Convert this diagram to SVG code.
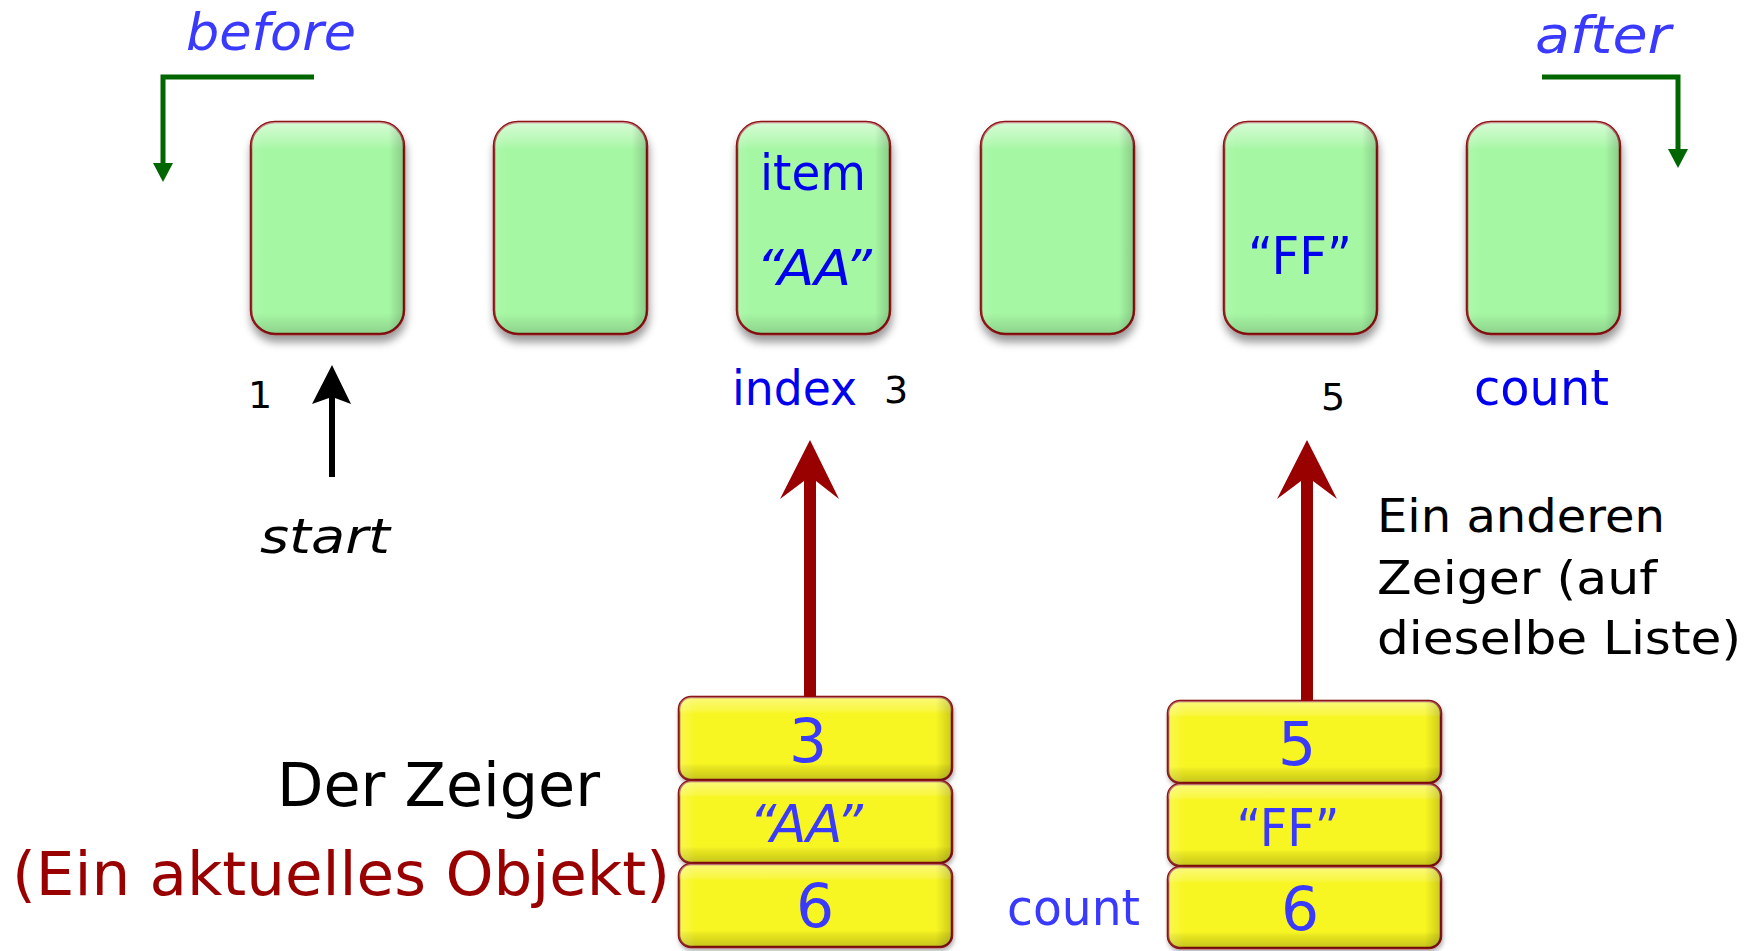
<svg xmlns="http://www.w3.org/2000/svg" width="1758" height="951" viewBox="0 0 1758 951">
<defs>
  <filter id="sh" x="-20%" y="-20%" width="140%" height="140%">
    <feDropShadow dx="1" dy="7" stdDeviation="4" flood-color="#000" flood-opacity="0.4"/>
  </filter>
  <filter id="shy" x="-10%" y="-20%" width="120%" height="140%">
    <feDropShadow dx="1" dy="3" stdDeviation="2" flood-color="#000" flood-opacity="0.3"/>
  </filter>
  <linearGradient id="gv" x1="0" y1="0" x2="0" y2="1">
    <stop offset="0" stop-color="#fff" stop-opacity="0.55"/>
    <stop offset="0.09" stop-color="#fff" stop-opacity="0.2"/>
    <stop offset="0.13" stop-color="#fff" stop-opacity="0"/>
    <stop offset="0.9" stop-color="#000" stop-opacity="0"/>
    <stop offset="1" stop-color="#000" stop-opacity="0.15"/>
  </linearGradient>
  <linearGradient id="gh" x1="0" y1="0" x2="1" y2="0">
    <stop offset="0" stop-color="#fff" stop-opacity="0.1"/>
    <stop offset="0.08" stop-color="#fff" stop-opacity="0"/>
    <stop offset="0.9" stop-color="#000" stop-opacity="0"/>
    <stop offset="1" stop-color="#000" stop-opacity="0.18"/>
  </linearGradient>
  <linearGradient id="yv" x1="0" y1="0" x2="0" y2="1">
    <stop offset="0" stop-color="#fff" stop-opacity="0.4"/>
    <stop offset="0.16" stop-color="#fff" stop-opacity="0.15"/>
    <stop offset="0.2" stop-color="#fff" stop-opacity="0"/>
    <stop offset="0.8" stop-color="#000" stop-opacity="0"/>
    <stop offset="0.84" stop-color="#000" stop-opacity="0.06"/>
    <stop offset="1" stop-color="#000" stop-opacity="0.2"/>
  </linearGradient>
  <linearGradient id="yh" x1="0" y1="0" x2="1" y2="0">
    <stop offset="0" stop-color="#fff" stop-opacity="0.2"/>
    <stop offset="0.06" stop-color="#fff" stop-opacity="0"/>
    <stop offset="0.94" stop-color="#000" stop-opacity="0"/>
    <stop offset="1" stop-color="#000" stop-opacity="0.18"/>
  </linearGradient>
</defs>
<style>
  .t { font-family: "DejaVu Sans", "Liberation Sans", sans-serif; }
  .gbox { fill: #a6f7a4; stroke: #8b1212; stroke-width: 2.5; }
  .ybox { fill: #f8f622; stroke: #8b1212; stroke-width: 2.5; }
  .blue { fill: #0000ee; }
  .lblue { fill: #3a3aff; }
  .black { fill: #000; }
  .dred { fill: #990000; }
  .green { stroke: #006600; stroke-width: 5; fill: none; }
  .ghead { fill: #006600; }
</style>

<rect width="1758" height="951" fill="#fff"/>

<!-- list cells -->
<g id="cell1" filter="url(#sh)">
  <rect class="gbox" x="251" y="122" width="153" height="212" rx="24"/>
  <rect x="251" y="122" width="153" height="212" rx="24" fill="url(#gv)"/>
  <rect x="251" y="122" width="153" height="212" rx="24" fill="url(#gh)"/>
</g>
<g id="cell2" filter="url(#sh)">
  <rect class="gbox" x="494" y="122" width="153" height="212" rx="24"/>
  <rect x="494" y="122" width="153" height="212" rx="24" fill="url(#gv)"/>
  <rect x="494" y="122" width="153" height="212" rx="24" fill="url(#gh)"/>
</g>
<g id="cell3">
  <g filter="url(#sh)">
    <rect class="gbox" x="737" y="122" width="153" height="212" rx="24"/>
    <rect x="737" y="122" width="153" height="212" rx="24" fill="url(#gv)"/>
    <rect x="737" y="122" width="153" height="212" rx="24" fill="url(#gh)"/>
  </g>
  <text class="t blue" x="813" y="190" font-size="50" text-anchor="middle" textLength="106" lengthAdjust="spacingAndGlyphs">item</text>
  <text class="t blue" x="814" y="285" font-size="50" font-style="italic" text-anchor="middle" textLength="116" lengthAdjust="spacingAndGlyphs">“AA”</text>
</g>
<g id="cell4" filter="url(#sh)">
  <rect class="gbox" x="981" y="122" width="153" height="212" rx="24"/>
  <rect x="981" y="122" width="153" height="212" rx="24" fill="url(#gv)"/>
  <rect x="981" y="122" width="153" height="212" rx="24" fill="url(#gh)"/>
</g>
<g id="cell5">
  <g filter="url(#sh)">
    <rect class="gbox" x="1224" y="122" width="153" height="212" rx="24"/>
    <rect x="1224" y="122" width="153" height="212" rx="24" fill="url(#gv)"/>
    <rect x="1224" y="122" width="153" height="212" rx="24" fill="url(#gh)"/>
  </g>
  <text class="t blue" x="1300" y="274" font-size="52" text-anchor="middle" textLength="104" lengthAdjust="spacingAndGlyphs">“FF”</text>
</g>
<g id="cell6" filter="url(#sh)">
  <rect class="gbox" x="1467" y="122" width="153" height="212" rx="24"/>
  <rect x="1467" y="122" width="153" height="212" rx="24" fill="url(#gv)"/>
  <rect x="1467" y="122" width="153" height="212" rx="24" fill="url(#gh)"/>
</g>

<!-- labels -->
<g id="labels">
  <text class="t lblue" x="186" y="50" font-size="52" font-style="italic" textLength="170" lengthAdjust="spacingAndGlyphs">before</text>
  <text class="t lblue" x="1535" y="53" font-size="52" font-style="italic" textLength="136" lengthAdjust="spacingAndGlyphs">after</text>
  <text class="t black" x="248" y="408" font-size="38">1</text>
  <text class="t blue" x="732" y="405" font-size="48" textLength="125" lengthAdjust="spacingAndGlyphs">index</text>
  <text class="t black" x="884" y="403" font-size="38">3</text>
  <text class="t black" x="1321" y="410" font-size="38">5</text>
  <text class="t blue" x="1474" y="405" font-size="50" textLength="135" lengthAdjust="spacingAndGlyphs">count</text>
  <text class="t black" x="260" y="553" font-size="48" font-style="italic" textLength="130" lengthAdjust="spacingAndGlyphs">start</text>
  <text class="t black" x="1377" y="532" font-size="46" textLength="288" lengthAdjust="spacingAndGlyphs">Ein anderen</text>
  <text class="t black" x="1377" y="594" font-size="46" textLength="280" lengthAdjust="spacingAndGlyphs">Zeiger (auf</text>
  <text class="t black" x="1377" y="654" font-size="46" textLength="364" lengthAdjust="spacingAndGlyphs">dieselbe Liste)</text>
  <text class="t black" x="277" y="806" font-size="60" textLength="323" lengthAdjust="spacingAndGlyphs">Der Zeiger</text>
  <text class="t dred" x="12" y="895" font-size="60" textLength="658" lengthAdjust="spacingAndGlyphs">(Ein aktuelles Objekt)</text>
  <text class="t lblue" x="1007" y="925" font-size="50" textLength="133" lengthAdjust="spacingAndGlyphs">count</text>
</g>

<!-- cursor 1 -->
<g id="cursor1">
  <g filter="url(#shy)">
    <rect class="ybox" x="679" y="697" width="273" height="83" rx="12"/>
    <rect x="679" y="697" width="273" height="83" rx="12" fill="url(#yv)"/>
    <rect x="679" y="697" width="273" height="83" rx="12" fill="url(#yh)"/>
    <rect class="ybox" x="679" y="781" width="273" height="82" rx="12"/>
    <rect x="679" y="781" width="273" height="82" rx="12" fill="url(#yv)"/>
    <rect x="679" y="781" width="273" height="82" rx="12" fill="url(#yh)"/>
    <rect class="ybox" x="679" y="864" width="273" height="83" rx="12"/>
    <rect x="679" y="864" width="273" height="83" rx="12" fill="url(#yv)"/>
    <rect x="679" y="864" width="273" height="83" rx="12" fill="url(#yh)"/>
  </g>
  <text class="t lblue" x="808" y="762" font-size="60" text-anchor="middle">3</text>
  <text class="t lblue" x="806" y="842" font-size="52" font-style="italic" text-anchor="middle" textLength="114" lengthAdjust="spacingAndGlyphs">“AA”</text>
  <text class="t lblue" x="815" y="927" font-size="60" text-anchor="middle">6</text>
</g>

<!-- cursor 2 -->
<g id="cursor2">
  <g filter="url(#shy)">
    <rect class="ybox" x="1168" y="701" width="273" height="82" rx="12"/>
    <rect x="1168" y="701" width="273" height="82" rx="12" fill="url(#yv)"/>
    <rect x="1168" y="701" width="273" height="82" rx="12" fill="url(#yh)"/>
    <rect class="ybox" x="1168" y="784" width="273" height="82" rx="12"/>
    <rect x="1168" y="784" width="273" height="82" rx="12" fill="url(#yv)"/>
    <rect x="1168" y="784" width="273" height="82" rx="12" fill="url(#yh)"/>
    <rect class="ybox" x="1168" y="867" width="273" height="81" rx="12"/>
    <rect x="1168" y="867" width="273" height="81" rx="12" fill="url(#yv)"/>
    <rect x="1168" y="867" width="273" height="81" rx="12" fill="url(#yh)"/>
  </g>
  <text class="t lblue" x="1297" y="765" font-size="60" text-anchor="middle">5</text>
  <text class="t lblue" x="1288" y="846" font-size="52" text-anchor="middle" textLength="103" lengthAdjust="spacingAndGlyphs">“FF”</text>
  <text class="t lblue" x="1300" y="930" font-size="60" text-anchor="middle">6</text>
</g>

<!-- connectors -->
<g id="connectors">
  <polyline class="green" points="314,77 163,77 163,166"/>
  <polygon class="ghead" points="153,163 173,163 163,182"/>
  <polyline class="green" points="1542,77 1678,77 1678,152"/>
  <polygon class="ghead" points="1668,149 1688,149 1678,168"/>
  <path d="M329,477 L329,398 L312,404 L332,365 L351,404 L335,398 L335,477 Z" fill="#000"/>
  <path d="M804,697 L804,481 L780,499 L810,440 L839,499 L816,481 L816,697 Z" fill="#990000"/>
  <path d="M1301,701 L1301,481 L1277,499 L1307,440 L1337,499 L1313,481 L1313,701 Z" fill="#990000"/>
</g>
</svg>
